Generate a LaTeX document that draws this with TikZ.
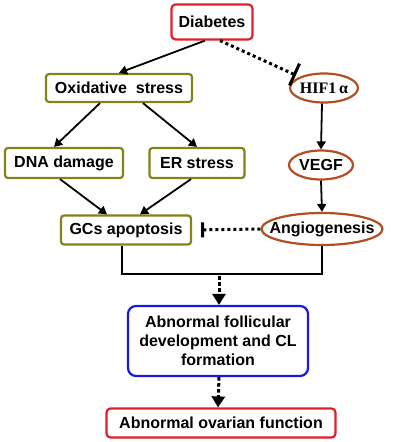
\documentclass[tikz,border=0pt]{standalone}
\usepackage{fontspec}
\setmainfont{Liberation Sans}
\newfontfamily\timesfont{Liberation Serif}
\usetikzlibrary{shapes.geometric,arrows.meta}
\definecolor{boxred}{RGB}{222,32,40}
\definecolor{boxolive}{RGB}{132,130,24}
\definecolor{ovalbrown}{RGB}{178,78,34}
\definecolor{boxblue}{RGB}{24,24,222}

\begin{document}
\begin{tikzpicture}[x=1pt,y=-1pt,
  font=\fontsize{16}{19}\selectfont\bfseries,
  redbox/.style={draw=boxred,line width=2.2pt,rounded corners=4pt},
  olivebox/.style={draw=boxolive,line width=2.2pt,rounded corners=3pt},
  brownoval/.style={ellipse,draw=ovalbrown,line width=2.2pt,inner sep=0pt},
  bluebox/.style={draw=boxblue,line width=2.2pt,rounded corners=8pt,align=center},
  arr/.style={line width=1.8pt,-{Triangle[length=8pt,width=9pt]}},
  dasharr/.style={line width=3pt,dash pattern=on 3.5pt off 2.5pt,-{Triangle[length=11pt,width=13pt]}},
  inhib/.style={line width=3pt,dash pattern=on 3pt off 3pt}]
  \useasboundingbox (0,0) rectangle (392,442);
  % boxes
  \node[redbox,minimum width=81pt,minimum height=35pt] (dia) at (212,22) {Diabetes};
  \node[olivebox,minimum width=146pt,minimum height=28pt] (ox) at (119,88) {Oxidative\ \ stress};
  \node[olivebox,minimum width=118pt,minimum height=30pt] (dna) at (64,163) {DNA damage};
  \node[olivebox,minimum width=95pt,minimum height=30pt] (er) at (197,163) {ER stress};
  \node[olivebox,minimum width=130pt,minimum height=29pt] (gcs) at (126,230) {GCs apoptosis};
  \node[brownoval,minimum width=65pt,minimum height=29pt] (hif) at (324,88)
    {\timesfont HIF1\,α};
  \node[brownoval,minimum width=64pt,minimum height=29pt] (vegf) at (321,165) {VEGF};
  \node[brownoval,inner xsep=-10pt,minimum width=121pt,minimum height=32pt] (ang) at (322,229) {Angiogenesis};
  \node[bluebox,minimum width=180pt,minimum height=70pt] (dev) at (218,341)
    {Abnormal follicular\\development and CL\\formation};
  \node[redbox,minimum width=229pt,minimum height=29pt] (ova) at (221,423) {Abnormal ovarian function};
  % connectors
  \draw[arr] ([xshift=-7pt]dia.south) -- (ox.north);
  \draw[inhib,-{Bar[width=24pt]},shorten >=4pt] ([xshift=8pt]dia.south) -- (hif);
  \draw[arr] ([xshift=-19pt]ox.south) -- ([xshift=-10pt]dna.north);
  \draw[arr] ([xshift=24pt]ox.south) -- (er.north);
  \draw[arr] ([xshift=-4pt]dna.south) -- ([xshift=-19pt]gcs.north);
  \draw[arr] ([xshift=-6pt]er.south) -- ([xshift=14pt]gcs.north);
  \draw[arr] ([xshift=-2pt]hif.south) -- (vegf.north);
  \draw[arr] (vegf.south) -- (ang.north);
  \draw[inhib,-{Bar[width=15pt]},shorten >=9pt] (ang.west) -- (gcs.east);
  \draw[line width=1.8pt] ([xshift=-4pt]gcs.south) -- ++(0,28) -| (ang.south);
  \coordinate (join) at (219,276);
  \draw[dasharr] (join) -- ([xshift=1pt]dev.north);
  \draw[dasharr] ([xshift=1pt]dev.south) -- (dev.south |- ova.north);
\end{tikzpicture}
\end{document}
